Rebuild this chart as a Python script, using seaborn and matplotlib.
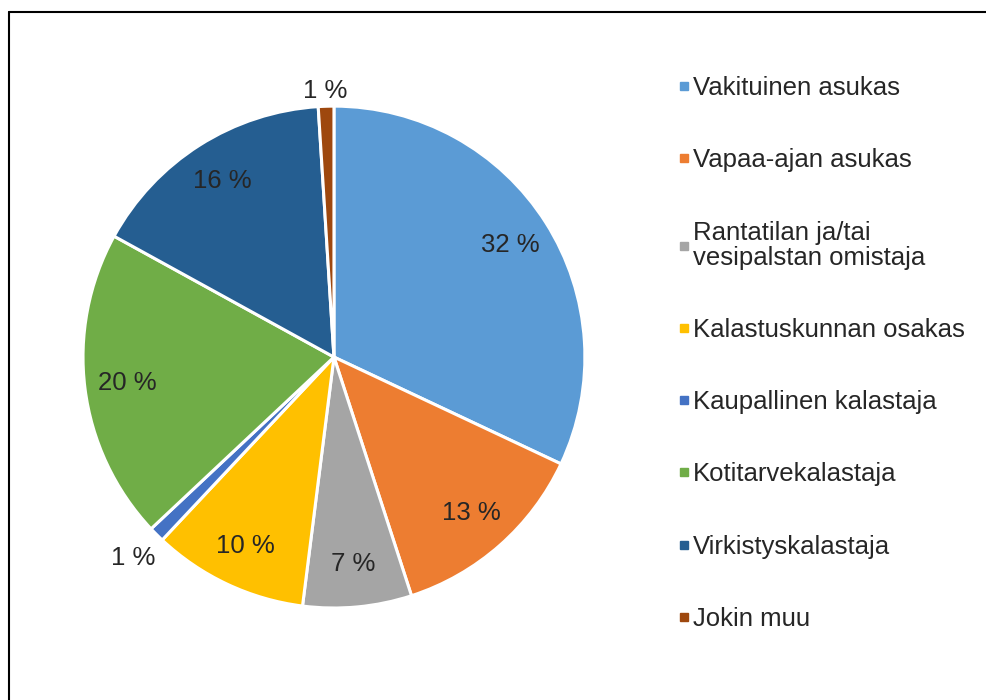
import numpy as np
import seaborn as sns
import matplotlib
matplotlib.use("Agg")
import matplotlib.pyplot as plt
from matplotlib.lines import Line2D

sns.set_style("white")
plt.rcParams['font.family'] = ['Liberation Sans', 'DejaVu Sans']

# data
categories = ["Vakituinen asukas", "Vapaa-ajan asukas",
              "Rantatilan ja/tai\nvesipalstan omistaja", "Kalastuskunnan osakas",
              "Kaupallinen kalastaja", "Kotitarvekalastaja",
              "Virkistyskalastaja", "Jokin muu"]
shares = [32, 13, 7, 10, 1, 20, 16, 1]
colors = ["#5B9BD5", "#ED7D31", "#A5A5A5", "#FFC000",
          "#4472C4", "#70AD47", "#255E91", "#9E480E"]

fig = plt.figure(figsize=(9.86, 7.0), dpi=100)
ax = fig.add_axes([0.0842, 0.1314, 0.509, 0.717])

wedges, _ = ax.pie(shares, colors=colors, startangle=90, counterclock=False,
                   radius=1.0, wedgeprops=dict(edgecolor="white", linewidth=2.2))
ax.set_xlim(-1, 1)
ax.set_ylim(-1, 1)
ax.set_aspect("equal")
ax.axis("off")

# percent labels: inside for big slices, outside for tiny ones
for w, v in zip(wedges, shares):
    mid = np.deg2rad((w.theta1 + w.theta2) / 2)
    if v < 3:
        r = 1.13 if abs(np.cos(mid)) > 0.3 else 1.06
    else:
        r = 0.83
    ax.text(r * np.cos(mid), r * np.sin(mid), f"{v} %", ha="center", va="center",
            fontsize=18.5, color="#262626", clip_on=False)

# legend
handles = [Line2D([0], [0], marker="s", linestyle="", markersize=5.5,
                  markerfacecolor=c, markeredgecolor=c) for c in colors]
leg = fig.legend(handles, categories, loc="upper left", bbox_to_anchor=(0.664, 0.9245),
                 frameon=False, fontsize=18.5, labelspacing=1.88, handletextpad=0.1,
                 handlelength=0.5, labelcolor="#262626")
for t in leg.get_texts():
    t.set_linespacing(1.05)

# border (top and left edges)
fig.add_artist(Line2D([9 / 986, 1.0], [1 - 12 / 700, 1 - 12 / 700],
                      transform=fig.transFigure, color="black", linewidth=1.5))
fig.add_artist(Line2D([9 / 986, 9 / 986], [0.0, 1 - 12 / 700],
                      transform=fig.transFigure, color="black", linewidth=1.5))

fig.savefig("out.png", dpi=100, facecolor="white")
